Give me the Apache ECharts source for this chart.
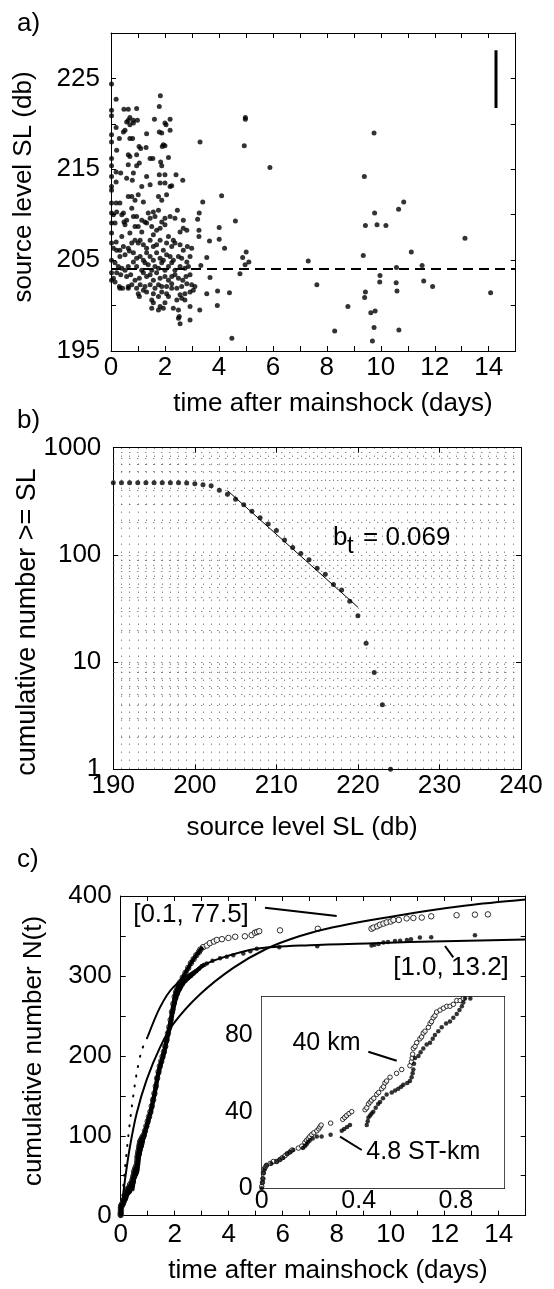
<!DOCTYPE html>
<html><head><meta charset="utf-8">
<script src="https://cdn.jsdelivr.net/npm/echarts@6/dist/echarts.min.js"></script>
<style>html,body{margin:0;padding:0;background:#fff}#c{width:554px;height:1289px}</style>
</head><body><div id="c"></div><script>
// ---------- DATA ----------
// Panel a: [time after mainshock (days), source level SL (db)]
const aPoints = [
[0.02,224.4],[0.19,222.7],[1.83,223.1],[1.79,221.9],
[0.48,221.6],[0.64,221.6],[0.95,221.7],[0.02,221.5],[0.02,220.9],
[0.70,220.7],[0.64,220.4],[0.83,220.4],[0.98,220.4],[1.61,220.5],[2.19,220.5],[2.00,220.1],
[0.19,219.6],[0.58,220.2],[0.70,219.9],[0.52,219.3],[0.83,220.1],[2.19,219.3],[2.04,219.9],[1.32,218.9],
[0.02,218.8],[0.02,218.0],[0.31,218.4],[0.46,219.1],[0.70,218.4],[0.80,218.4],[1.79,219.1],[1.88,219.0],
[0.21,217.1],[0.64,216.6],[0.70,216.4],[1.04,217.5],[1.10,217.3],[1.94,217.7],[1.90,217.5],[2.00,217.6],[1.45,216.2],[1.55,216.2],[1.84,215.8],[1.88,215.4],[2.13,216.3],[1.30,217.4],
[0.02,216.2],[0.02,215.4],[0.19,214.7],[0.64,215.5],[0.95,216.6],[0.95,215.4],[0.83,214.6],[1.05,215.7],[1.32,214.2],[1.79,214.4],[2.00,214.4],[2.41,214.4],[2.66,213.8],
[0.02,214.2],[0.02,213.1],[0.02,212.7],[0.19,213.6],[0.36,214.6],[0.58,214.0],[0.79,213.8],[1.14,213.1],[1.45,213.3],[1.82,213.5],[2.00,213.5],[2.19,213.1],[2.25,213.2],
[0.02,211.3],[0.19,211.3],[0.33,211.3],[0.46,210.2],[0.64,212.0],[0.77,212.0],[0.89,211.6],[1.01,212.2],[1.20,211.4],[1.38,210.2],[1.57,210.3],[1.76,212.0],[1.88,211.6],[2.06,212.2],[2.46,210.5],
[0.02,210.2],[0.09,210.0],[0.21,210.3],[0.40,210.0],[0.48,209.2],[0.58,209.4],[0.77,210.7],[0.83,209.8],[0.95,209.8],[1.14,209.4],[1.26,209.2],[1.45,209.6],[1.63,209.8],[1.76,210.5],[1.88,209.2],[2.00,209.6],[2.19,209.8],[2.37,209.6],[2.68,209.4],
[0.02,209.1],[0.15,209.1],[0.40,207.6],[0.52,208.9],[0.70,208.0],[0.89,208.7],[1.01,208.7],[1.14,208.1],[1.32,209.1],[1.51,208.7],[1.57,207.8],[1.69,208.3],[1.82,208.5],[2.00,208.9],[2.13,207.6],[2.31,207.2],[2.56,208.1],[2.68,208.5],[2.81,208.3],
[0.02,208.0],[0.19,207.0],[0.33,206.1],[0.46,206.5],[0.64,206.3],[0.77,206.9],[0.89,207.2],[1.01,206.9],[1.08,207.2],[1.20,206.7],[1.32,206.3],[1.45,207.2],[1.57,206.5],[1.69,206.7],[1.82,207.2],[1.94,206.1],[2.06,206.9],[2.25,206.5],[2.37,206.9],[2.56,206.7],[2.68,206.1],[2.83,206.5],[2.99,206.3],
[0.02,206.9],[0.09,206.3],[0.21,206.1],[0.33,205.4],[0.52,205.6],[0.68,206.0],[0.83,205.8],[0.95,205.2],[1.08,205.4],[1.20,205.0],[1.32,205.8],[1.45,205.4],[1.57,205.0],[1.69,205.8],[1.82,205.2],[1.94,205.0],[2.06,205.6],[2.19,205.4],[2.31,205.0],[2.50,205.4],[2.62,205.2],[2.81,204.8],[2.93,205.4],
[0.02,205.0],[0.15,204.7],[0.27,204.3],[0.40,204.1],[0.52,203.9],[0.64,204.3],[0.83,204.8],[0.95,204.3],[1.14,203.9],[1.26,204.7],[1.38,204.5],[1.51,203.9],[1.63,204.3],[1.76,204.1],[1.88,204.7],[2.00,203.9],[2.13,204.3],[2.25,204.7],[2.37,203.9],[2.56,204.3],[2.74,204.1],[2.87,204.3],
[0.02,203.6],[0.09,203.0],[0.21,203.6],[0.36,203.4],[0.58,203.2],[0.73,203.4],[0.89,202.8],[1.05,203.0],[1.20,203.6],[1.32,203.2],[1.45,203.4],[1.57,202.8],[1.69,203.6],[1.82,203.0],[2.00,203.2],[2.13,202.8],[2.25,203.2],[2.37,203.4],[2.50,203.0],[2.66,202.8],[2.78,203.2],[2.93,203.4],
[0.02,202.8],[0.15,202.6],[0.31,202.1],[0.43,201.9],[0.64,202.1],[0.77,202.3],[0.95,201.9],[1.08,202.3],[1.26,202.1],[1.45,202.3],[1.63,201.9],[1.76,202.3],[1.88,202.1],[2.06,202.1],[2.25,202.4],[2.44,201.9],[2.62,202.1],[2.81,202.4],[2.99,202.3],[3.11,202.1],
[0.33,201.9],[0.64,201.9],[1.01,201.3],[1.05,201.0],[1.20,201.7],[1.32,201.5],[1.57,201.3],[1.76,201.0],[1.88,201.5],[2.06,201.3],[2.25,201.9],[2.56,201.2],[2.74,201.3],[2.93,201.5],[3.05,201.7],
[1.51,200.6],[1.57,200.3],[2.00,200.3],[1.82,199.9],[2.13,201.0],[2.44,200.6],[2.62,200.8],[2.74,200.6],[2.93,199.9],
[1.51,199.7],[1.76,199.5],[1.94,199.7],[2.31,199.7],[2.50,199.5],[2.53,198.8],[2.56,198.0],[2.93,198.4],[2.50,198.6],
[3.30,218.0],[3.40,211.4],[3.27,210.2],[3.21,209.5],[3.26,208.3],[3.26,207.6],[3.33,204.4],[3.29,199.5],[3.55,205.3],[3.65,207.1],[3.55,201.3],[3.67,203.1],[4.01,208.6],[4.01,207.3],[4.10,212.1],[4.21,206.3],[3.94,200.0],[3.95,201.6],[4.39,201.4],[4.48,196.4],[4.61,209.3],[4.78,203.5],[4.88,205.3],[5.01,205.9],[4.97,204.5],[5.11,204.8],[4.94,217.6],[4.98,220.7],[4.98,220.5],[5.89,215.2],[7.31,204.9],[7.63,202.3],[8.29,197.2],[8.78,199.9],[9.39,214.2],[9.35,205.5],[9.43,208.8],[9.43,201.5],[9.40,200.9],[9.75,219.0],[9.77,210.2],[9.86,208.9],[9.63,199.2],[9.79,199.4],[9.75,197.6],[9.69,196.1],[9.97,203.3],[9.96,202.6],[10.19,208.8],[10.58,204.2],[10.57,202.5],[10.60,201.6],[10.66,210.6],[10.67,197.3],[10.85,211.4],[11.13,205.9],[11.53,204.4],[11.59,202.7],[11.92,202.1],[13.12,207.4],[14.07,201.4]
];
const aLevel = 204.1;                       // dashed reference level (db)
const aBar = [[14.27,221.75],[14.27,228.1]]; // vertical scale bar
const aXLabels = [0,2,4,6,8,10,12,14];
const aYLabels = [195,205,215,225];

// Panel b: cumulative number >= SL
const bSL    = [190,191,192,193,194,195,196,197,198,199,200,201,202,203,204,205,206,207,208,209,210,211,212,213,214,215,216,217,218,219,220,221,222,223,224];
const bCount = [472,472,472,472,472,472,472,472,472,468,462,452,442,401,368,330,294,255,222,194,169,138,117,103,90,75,66,53,47,37,27,15,8,4,1];
const bFit = [[204,398],[220,32.5]];
const bMinorGrid = [2,3,4,5,6,7,8,9,20,30,40,50,60,70,80,90,200,300,400,500,600,700,800,900];
const bXLabels = [190,200,210,220,230,240];
const bYLabels = [1,10,100,1000];

// Panel c: cumulative number N(t) [days, N]
const c40km = [
[0.000,1],[0.003,3],[0.005,5],[0.007,8],[0.010,10],[0.015,11],[0.020,12],[0.035,13],[0.048,14],[0.062,14],[0.075,15],[0.085,16],[0.096,17],[0.105,18],[0.117,19],[0.125,20],[0.151,21],[0.165,22],[0.178,24],[0.185,25],[0.192,26],[0.198,27],[0.206,28],[0.215,29],[0.227,30],[0.235,31],[0.240,32],[0.245,33],[0.284,34],[0.334,36],[0.342,37],[0.350,38],[0.360,39],[0.371,40],[0.426,41],[0.433,42],[0.440,44],[0.447,45],[0.453,46],[0.462,47],[0.474,49],[0.482,50],[0.495,52],[0.502,53],[0.508,55],[0.515,56],[0.529,58],[0.556,60],[0.577,62],[0.611,64],[0.617,66],[0.620,68],[0.622,70],[0.625,73],[0.632,74],[0.639,76],[0.652,78],[0.659,79],[0.666,81],[0.673,82],[0.687,84],[0.694,86],[0.700,87],[0.707,89],[0.714,90],[0.721,92],[0.735,93],[0.749,94],[0.763,95],[0.776,95],[0.790,96],[0.804,98],[0.818,98],[0.831,99],
[0.86,101],[0.90,106],[0.95,112],[1.00,118],[1.05,124],[1.10,130],[1.15,137],[1.20,145],[1.25,153],[1.30,162],[1.35,172],[1.40,180],[1.45,187],[1.50,193],[1.55,199],[1.60,205],[1.65,212],[1.70,220],[1.75,228],[1.80,236],[1.85,245],[1.90,255],[1.95,265],[2.00,274],[2.05,280],[2.10,285],[2.15,289],[2.20,292],[2.30,298],[2.40,304],[2.50,310],[2.60,316],[2.70,321],[2.80,326],[2.90,330],[2.95,333],[3.05,336],
[3.19,338],[3.30,341],[3.45,343],[3.56,345],[3.75,346],[3.99,347.5],[4.24,349],[4.60,349.6],[4.85,351],[4.97,354],[5.05,355],[5.13,356],[5.90,357],[7.30,359],[9.29,359],[9.36,360.5],[9.50,362],[9.60,364],[9.73,365.5],[9.85,367],[10.00,368],[10.10,370],[10.30,370],[10.59,372],[10.84,372.5],[11.15,373],[11.50,374.6],[12.44,376],[13.12,376.7],[13.60,377]
];
const c48STkm = [
[0.000,0],[0.003,3],[0.005,5],[0.007,8],[0.012,10],[0.020,12],[0.040,13],[0.062,14],[0.075,15],[0.089,16],[0.105,18],[0.117,19],[0.130,20],[0.170,21],[0.178,22],[0.185,23],[0.190,24],[0.198,25],[0.210,26],[0.227,27],[0.247,27],[0.284,28],[0.330,30],[0.340,31],[0.352,32],[0.364,33],[0.433,33],[0.437,35],[0.440,37],[0.447,38],[0.453,39],[0.460,40],[0.470,42],[0.480,44],[0.488,45],[0.500,47],[0.515,49],[0.536,50],[0.550,51],[0.563,52],[0.575,53],[0.584,54],[0.600,55],[0.611,56],[0.618,58],[0.622,60],[0.625,62],[0.628,65],[0.632,68],[0.646,69],[0.655,71],[0.666,73],[0.680,75],[0.694,76],[0.705,78],[0.714,80],[0.728,82],[0.742,84],[0.760,86],[0.776,87],[0.790,89],[0.804,91],[0.815,93],[0.825,95],[0.831,97],[0.838,99],
[0.86,99],[0.90,104],[0.95,110],[1.00,116],[1.05,122],[1.10,128],[1.15,135],[1.20,143],[1.25,151],[1.30,160],[1.35,170],[1.40,178],[1.45,185],[1.50,191],[1.55,197],[1.60,203],[1.65,210],[1.70,218],[1.75,226],[1.80,233],[1.85,241],[1.90,250],[1.95,258],[2.00,266],[2.05,272],[2.10,277],[2.20,284],[2.30,290],[2.40,294],[2.50,297],[2.60,300],[2.70,303],[2.80,306],[2.90,309],[3.00,312],[3.10,314],
[3.19,315.5],[3.40,319],[3.68,322],[3.93,324],[4.17,326],[4.54,328],[4.80,331],[5.04,334],[5.87,336],[7.28,337],[9.29,338],[9.40,339],[9.55,340],[9.73,341.7],[9.90,342.5],[10.16,343.6],[10.35,344],[10.60,345],[10.75,346],[11.08,348],[11.50,348.5],[13.12,351]
];
// fitted curves
const cFitEarlyDotted = [[0,0],[0.16,60],[0.28,99],[0.41,136],[0.59,178],[0.78,207],[1.0,224]];
const cFit_1_0_13_2  = [[1.0,224],[1.46,261],[1.95,286],[2.94,311],[3.68,322],[5.04,334],[7.0,338.5],[9.4,341],[12,343.5],[15,345.5]];
const cFit_0_1_77_5  = [[0,0],[0.16,45],[0.34,86],[0.59,128],[0.96,170],[1.46,211],[1.95,240],[2.94,277],[4.17,310],[5.4,334],[6.64,350],[7.87,361],[10.34,376],[12.8,388],[15,395.5]];
const cXLabels = [0,2,4,6,8,10,12,14];
const cYLabels = [0,100,200,300,400];
const inXLabels = ['0','0.4','0.8'];
const inYLabels = [0,40,80];

// ---------- CHART ----------
const F = '"Liberation Sans", Arial, Helvetica, sans-serif';
const FS = 26;
const K = '#000';
function lab(v, labels){ for (const l of labels){ if (Math.abs(Number(l)-v) < 1e-6) return String(l); } return ''; }
function axis(kind, grid, pos, o){
  const a = {
    type: o.type || 'value', gridIndex: grid, position: pos, min: o.min, max: o.max,
    axisLine: {show: true, onZero: false, lineStyle: {color: K, width: 1}},
    axisTick: {show: true, inside: true, length: o.tick || 5, lineStyle: {color: K, width: 1}},
    axisLabel: {show: !!o.labels, color: K, fontFamily: F, fontSize: o.fs || FS, margin: o.margin == null ? 5 : o.margin,
                formatter: o.labels ? (v => lab(v, o.labels)) : undefined},
    splitLine: {show: false}
  };
  if (o.interval != null) a.interval = o.interval;
  if (o.type === 'log') a.logBase = 10;
  if (o.extra) Object.assign(a, o.extra);
  return a;
}
const dotted = {color: '#555', width: 1, type: [1, 7]};
const bGridX = {splitLine: {show: true, lineStyle: dotted}, minorTick: {show: true, splitNumber: 10, length: 0}, minorSplitLine: {show: true, lineStyle: dotted}};
const bGridY = {splitLine: {show: true, lineStyle: dotted}};

const grids = [
  {left: 111, top: 33, width: 404.7, height: 318},
  {left: 113.3, top: 447.7, width: 407.7, height: 321.6},
  {left: 120.7, top: 896, width: 405, height: 319.7},
  {left: 261.7, top: 996.7, width: 242.6, height: 191.6, show: true, backgroundColor: '#fff', borderWidth: 0, z: 3}
].map(g => Object.assign({containLabel: false, outerBoundsMode: 'none'}, g));

const xAxis = [
  axis('x', 0, 'bottom', {min: 0, max: 15, interval: 1, labels: aXLabels, margin: 4}),
  axis('x', 0, 'top', {min: 0, max: 15, interval: 1}),
  axis('x', 1, 'bottom', {min: 190, max: 240, interval: 10, labels: bXLabels, margin: 4, extra: bGridX}),
  axis('x', 1, 'top', {min: 190, max: 240, interval: 10}),
  axis('x', 2, 'bottom', {min: 0, max: 15, interval: 1, labels: cXLabels, margin: 6}),
  axis('x', 2, 'top', {min: 0, max: 15, interval: 1}),
  axis('x', 3, 'bottom', {min: 0, max: 1, interval: 0.1, labels: inXLabels, margin: 0, tick: 4, fs: 25}),
  axis('x', 3, 'top', {min: 0, max: 1, interval: 0.1, tick: 4})
];
const yAxis = [
  axis('y', 0, 'left', {min: 195, max: 230, interval: 5, labels: aYLabels, margin: 11}),
  axis('y', 0, 'right', {min: 195, max: 230, interval: 5}),
  axis('y', 1, 'left', {type: 'log', min: 1, max: 1000, labels: bYLabels, margin: 12, extra: bGridY}),
  axis('y', 1, 'right', {type: 'log', min: 1, max: 1000}),
  axis('y', 2, 'left', {min: 0, max: 400, interval: 50, labels: cYLabels, margin: 9}),
  axis('y', 2, 'right', {min: 0, max: 400, interval: 50}),
  axis('y', 3, 'left', {min: 0, max: 100, interval: 10, labels: inYLabels, margin: 9, tick: 4, fs: 25}),
  axis('y', 3, 'right', {min: 0, max: 100, interval: 10, tick: 4})
];

const openStyle = {color: '#fff', borderColor: K, borderWidth: 1};
const curveStyle = {color: K, width: 2};
const series = [
  {type: 'scatter', xAxisIndex: 0, yAxisIndex: 0, data: aPoints, symbolSize: 5, itemStyle: {color: K},
   markLine: {silent: true, symbol: ['none', 'none'], label: {show: false}, lineStyle: {color: K, width: 2, type: [10, 6]}, data: [{yAxis: aLevel}]}},
  {type: 'line', xAxisIndex: 0, yAxisIndex: 0, data: aBar, symbol: 'none', lineStyle: {color: K, width: 3}},

  {type: 'scatter', xAxisIndex: 2, yAxisIndex: 2, data: bSL.map((s, i) => [s, bCount[i]]), symbolSize: 5, itemStyle: {color: K},
   markLine: {silent: true, symbol: ['none', 'none'], label: {show: false}, lineStyle: dotted, data: bMinorGrid.map(v => ({yAxis: v}))}},
  {type: 'line', xAxisIndex: 2, yAxisIndex: 2, data: bFit, symbol: 'none', lineStyle: {color: K, width: 1}},

  {type: 'scatter', xAxisIndex: 4, yAxisIndex: 4, data: c40km, symbol: 'circle', symbolSize: 5.5, itemStyle: openStyle},
  {type: 'scatter', xAxisIndex: 4, yAxisIndex: 4, data: c48STkm, symbolSize: 4.5, itemStyle: {color: K}},
  {type: 'line', xAxisIndex: 4, yAxisIndex: 4, data: c40km.filter(p => p[0] <= 3.05), symbol: 'none', lineStyle: {color: K, width: 4}},
  {type: 'line', xAxisIndex: 4, yAxisIndex: 4, data: c48STkm.filter(p => p[0] <= 3.1), symbol: 'none', lineStyle: {color: K, width: 4}},
  {type: 'line', xAxisIndex: 4, yAxisIndex: 4, data: cFitEarlyDotted, symbol: 'none', smooth: 0.3, lineStyle: {color: K, width: 2, type: [1, 9], cap: 'round'}},
  {type: 'line', xAxisIndex: 4, yAxisIndex: 4, data: cFit_1_0_13_2, symbol: 'none', smooth: 0.3, lineStyle: curveStyle},
  {type: 'line', xAxisIndex: 4, yAxisIndex: 4, data: cFit_0_1_77_5, symbol: 'none', smooth: 0.3, lineStyle: curveStyle},

  {type: 'scatter', xAxisIndex: 6, yAxisIndex: 6, data: c40km, symbol: 'circle', symbolSize: 4.5, clip: true, itemStyle: openStyle, z: 5},
  {type: 'scatter', xAxisIndex: 6, yAxisIndex: 6, data: c48STkm, symbolSize: 4.5, clip: true, itemStyle: {color: K}, z: 5}
];

function txt(s, x, y, align, size, rot){
  return {type: 'text', x: x, y: y, z: 100, rotation: rot || 0,
    style: {text: s, fill: K, font: (size || FS) + 'px ' + F, textAlign: align, align: align, textVerticalAlign: 'middle', verticalAlign: 'middle'}};
}
function ln(x1, y1, x2, y2){
  return {type: 'line', z: 100, shape: {x1: x1, y1: y1, x2: x2, y2: y2}, style: {stroke: K, lineWidth: 2}};
}
const graphic = [
  txt('a)', 17, 24, 'left'), txt('b)', 17, 421, 'left'), txt('c)', 17, 860, 'left'),
  txt('source level SL (db)', 24, 187, 'center', FS, Math.PI / 2),
  txt('time after mainshock (days)', 333, 404, 'center'),
  txt('cumulative number >= SL', 28, 622, 'center', 27, Math.PI / 2),
  txt('source level SL (db)', 302, 828, 'center'),
  txt('b', 333, 538, 'left'), txt('t', 347, 546, 'left', 24), txt('= 0.069', 363, 538, 'left'),
  txt('cumulative number N(t)', 34, 1051, 'center', FS, Math.PI / 2),
  txt('time after mainshock (days)', 328, 1271, 'center'),
  txt('[0.1, 77.5]', 191, 915, 'center'), ln(265, 907.7, 336.7, 916),
  txt('[1.0, 13.2]', 451, 968, 'center'), ln(445, 946, 453.3, 957.3),
  txt('40 km', 326.5, 1043, 'center', 25), ln(368.3, 1051.7, 396.7, 1060.7),
  txt('4.8 ST-km', 423.3, 1152, 'center', 25), ln(340, 1136.7, 361.7, 1150)
];

const chart = echarts.init(document.getElementById('c'), null, {renderer: 'canvas'});
chart.setOption({animation: false, backgroundColor: '#fff', textStyle: {fontFamily: F}, grid: grids, xAxis: xAxis, yAxis: yAxis, series: series, graphic: graphic});
</script></body></html>
